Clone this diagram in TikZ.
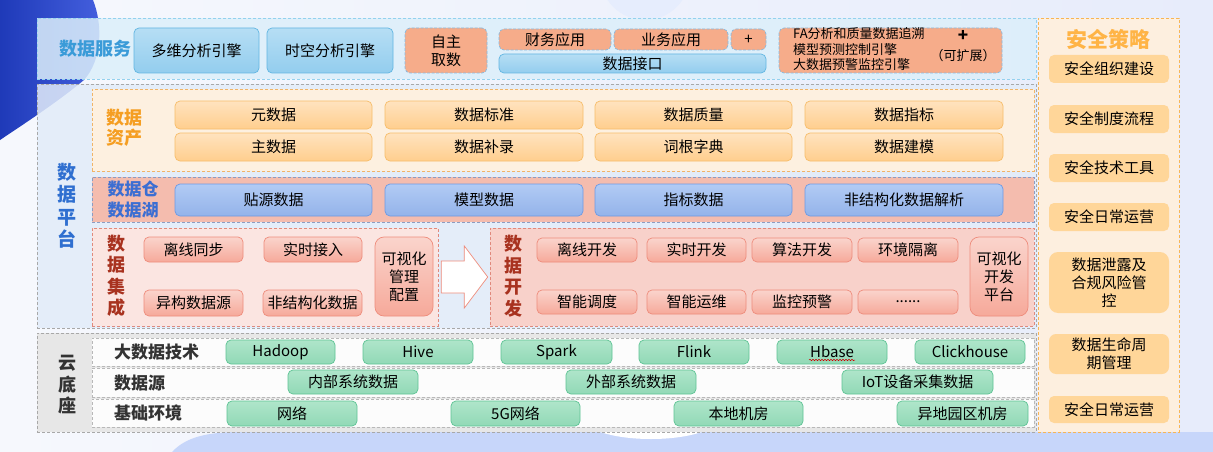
\documentclass[tikz,border=0pt]{standalone}
\usepackage{fontspec}
\setmainfont{Noto Sans CJK SC}
\usetikzlibrary{positioning,calc,decorations.pathmorphing}
\definecolor{pageleft}{HTML}{F6F8FD}
\definecolor{pageright}{HTML}{E7ECFB}
\definecolor{deepblue}{HTML}{2444D9}
\definecolor{paleblue}{HTML}{C7D6FA}
\definecolor{svcfill}{HTML}{DCEFFA}
\definecolor{svcline}{HTML}{93D1EE}
\definecolor{svcink}{HTML}{3A9BD8}
\definecolor{skytop}{HTML}{B6DEF4}
\definecolor{skybot}{HTML}{93CDEE}
\definecolor{skyline}{HTML}{62B6E2}
\definecolor{peachfill}{HTML}{F6AC8A}
\definecolor{peachline}{HTML}{86B9DF}
\definecolor{platfill}{HTML}{E2ECF9}
\definecolor{platink}{HTML}{2F6FD0}
\definecolor{grayline}{HTML}{A8A8A8}
\definecolor{assetfill}{HTML}{FDF0E0}
\definecolor{assetline}{HTML}{F0B468}
\definecolor{assetink}{HTML}{F59E22}
\definecolor{ambertop}{HTML}{FFE3BF}
\definecolor{amberbot}{HTML}{FFCE8E}
\definecolor{amberline}{HTML}{F7BD6A}
\definecolor{lakeband}{HTML}{F4BCAE}
\definecolor{lakeborder}{HTML}{8C9CC2}
\definecolor{lakeink}{HTML}{3C6ED2}
\definecolor{laketop}{HTML}{B2CBF4}
\definecolor{lakebot}{HTML}{93B3EA}
\definecolor{lakeline}{HTML}{6C9AE4}
\definecolor{integfill}{HTML}{FBE5E1}
\definecolor{devfill}{HTML}{F8D1CA}
\definecolor{roseborder}{HTML}{E0897C}
\definecolor{roseink}{HTML}{A8321F}
\definecolor{rosetop}{HTML}{FAD4CC}
\definecolor{rosebot}{HTML}{F6A99A}
\definecolor{roseline}{HTML}{EE8C7C}
\definecolor{cloudfill}{HTML}{E7E7E7}
\definecolor{cloudink}{HTML}{333333}
\definecolor{bandfill}{HTML}{FCFCFC}
\definecolor{bandline}{HTML}{B8B8B8}
\definecolor{minttop}{HTML}{AFE5CA}
\definecolor{mintbot}{HTML}{91D9B6}
\definecolor{mintline}{HTML}{5EC394}
\definecolor{guardbg}{HTML}{FDEFDF}
\definecolor{guardline}{HTML}{F7B556}
\definecolor{guardink}{HTML}{FFB446}
\definecolor{guardfill}{HTML}{FFD699}

\begin{document}
\begin{tikzpicture}[x=1pt,y=-1pt,
  wh/.style 2 args={minimum width=#1pt,minimum height=#2pt},
  panel/.style={draw,dash pattern=on 3pt off 2pt,line width=0.6pt,inner sep=0pt},
  cell/.style={rounded corners=5pt,inner sep=0pt,align=center,line width=0.7pt,font=\fontsize{15}{18}\selectfont},
  skycell/.style={cell,draw=skyline,top color=skytop,bottom color=skybot},
  peach/.style={cell,draw=peachline,dash pattern=on 3pt off 1.5pt,fill=peachfill},
  amber/.style={cell,draw=amberline,top color=ambertop,bottom color=amberbot},
  lake/.style={cell,draw=lakeline,top color=laketop,bottom color=lakebot},
  rose/.style={cell,draw=roseline,top color=rosetop,bottom color=rosebot},
  mint/.style={cell,draw=mintline,top color=minttop,bottom color=mintbot},
  guard/.style={cell,fill=guardfill},
  tag/.style={font=\bfseries\fontsize{18}{21}\selectfont,align=center,inner sep=0pt},
  rowtag/.style={font=\bfseries\fontsize{17}{20}\selectfont,text=cloudink,inner sep=0pt,anchor=west}
]
\useasboundingbox (0,0) rectangle (1213,452);
\clip (0,0) rectangle (1213,452);

% backdrop
\shade[left color=pageleft,right color=pageright] (0,0) rectangle (1213,452);
\shade[left color=deepblue!85!black,right color=deepblue!85!white] (0,0) -- (93,0)
  .. controls (103,25) and (102,60) .. (84,80) .. controls (60,100) and (30,120) .. (0,140) -- cycle;
\fill[paleblue!45] (645,-25) circle (45pt);
\fill[paleblue] (172,452) .. controls (185,438) and (205,432) .. (240,432) -- (1213,432) -- (1213,452) -- cycle;
\fill[white] (651,418) ellipse (68pt and 21pt);

% data services
\node[panel,draw=svcline,fill=svcfill,fill opacity=0.85,wh={999}{61}] (service) at (536.5,48.5) {};
\node[tag,text=svcink] (svctag) at (95,49) {数据服务};
\node[skycell,wh={125}{45}] (olap) at (196.5,50.5) {多维分析引擎};
\node[skycell,wh={126}{45}] (spatio) at (330,50.5) {时空分析引擎};
\node[peach,wh={82}{45}] (selfq) at (446,50.5) {自主\\取数};
\node[peach,wh={112}{21}] (finapp) at (555,39.5) {财务应用};
\node[peach,wh={114}{21}] (bizapp) at (671,39.5) {业务应用};
\node[peach,wh={35}{21}] (more) at (748.5,39.5) {+};
\node[skycell,wh={267}{19}] (api) at (632.5,63.5) {数据接口};
\node[peach,wh={223}{45}] (engines) at (890.5,50.5) {};
\node[anchor=west,font=\fontsize{13}{15.5}\selectfont,align=left,inner sep=0pt] (englist) at (793,49.5) {FA分析和质量数据追溯\\模型预测控制引擎\\大数据预警监控引擎};
\node[font=\bfseries\fontsize{17}{17}\selectfont,inner sep=0pt] (plus) at (963,36) {+};
\node[font=\fontsize{13}{15}\selectfont,inner sep=0pt] (ext) at (963,56) {（可扩展）};

% data platform
\node[panel,draw=grayline,fill=platfill,fill opacity=0.85,wh={999}{244}] (platform) at (536.5,206) {};
\node[tag,text=platink,font=\bfseries\fontsize{19}{22.5}\selectfont] (plattag) at (67,206) {数\\据\\平\\台};

\node[panel,draw=assetline,fill=assetfill,wh={942}{82}] (assets) at (563,130) {};
\node[tag,text=assetink,font=\bfseries\fontsize{18}{20}\selectfont] (assettag) at (124.5,128) {数据\\资产};
\node[amber,wh={197}{28}] (meta) at (273.5,115) {元数据};
\node[amber,wh={198}{28}] (std) at (484,115) {数据标准};
\node[amber,wh={197}{28}] (qual) at (693.5,115) {数据质量};
\node[amber,wh={198}{28}] (kpi) at (904,115) {数据指标};
\node[amber,wh={197}{28}] (master) at (273.5,147) {主数据};
\node[amber,wh={198}{28}] (entry) at (484,147) {数据补录};
\node[amber,wh={197}{28}] (dict) at (693.5,147) {词根字典};
\node[amber,wh={198}{28}] (model) at (904,147) {数据建模};

\node[panel,draw=lakeborder,fill=lakeband,wh={942}{45}] (lakeband) at (563,199.5) {};
\node[tag,text=lakeink,font=\bfseries\fontsize{17}{21}\selectfont] (laketag) at (133,200) {数据仓\\数据湖};
\node[lake,wh={197}{32}] (ods) at (273.5,200) {贴源数据};
\node[lake,wh={198}{32}] (dwm) at (484,200) {模型数据};
\node[lake,wh={197}{32}] (dws) at (693.5,200) {指标数据};
\node[lake,wh={198}{32}] (unstr) at (904,200) {非结构化数据解析};

\node[panel,draw=roseborder,fill=integfill,wh={346}{98}] (integ) at (265,277) {};
\node[tag,text=roseink,font=\bfseries\fontsize{18}{21.5}\selectfont] (integtag) at (116,276) {数\\据\\集\\成};
\node[rose,wh={99}{25}] (offsync) at (193.5,249.5) {离线同步};
\node[rose,wh={98}{25}] (rtin) at (313,249.5) {实时接入};
\node[rose,wh={99}{26}] (hetero) at (193.5,303) {异构数据源};
\node[rose,wh={99}{26}] (unsdata) at (312.5,303) {非结构化数据};
\node[rose,rounded corners=9pt,wh={58}{79}] (vismgr) at (404,276.5) {可视化\\管理\\配置};

\node[panel,draw=roseborder,fill=devfill,wh={544}{98}] (devel) at (762,277) {};
\node[tag,text=roseink,font=\bfseries\fontsize{18}{21.5}\selectfont] (develtag) at (513,276) {数\\据\\开\\发};
\node[rose,wh={100}{24}] (offdev) at (587,250) {离线开发};
\node[rose,wh={99}{24}] (rtdev) at (696.5,250) {实时开发};
\node[rose,wh={100}{24}] (algdev) at (802,250) {算法开发};
\node[rose,wh={100}{24}] (enviso) at (908,250) {环境隔离};
\node[rose,wh={100}{24}] (sched) at (587,302) {智能调度};
\node[rose,wh={99}{24}] (smartops) at (696.5,302) {智能运维};
\node[rose,wh={100}{24}] (alert) at (802,302) {监控预警};
\node[rose,wh={100}{24}] (etc) at (908,302) {......};
\node[rose,rounded corners=9pt,wh={58}{79}] (visdev) at (999,276.5) {可视化\\开发\\平台};

\draw[roseline,fill=white,line width=0.7pt] ($(integ.east)+(3,-16)$) -- ++(23,0) -- ++(0,-15)
  -- ($(devel.west)+(-2,0)$) -- ($(integ.east)+(26,31)$) -- ++(0,-15) -- ($(integ.east)+(3,16)$) -- cycle;

% cloud base
\node[panel,draw=grayline,fill=cloudfill,wh={999}{99}] (cloud) at (536.5,382.5) {};
\node[tag,text=cloudink,font=\bfseries\fontsize{18}{21.5}\selectfont] (cloudtag) at (67,385) {云\\底\\座};
\node[panel,draw=bandline,fill=bandfill,wh={942}{28}] (techband) at (563,352) {};
\node[panel,draw=bandline,fill=bandfill,wh={942}{29}] (srcband) at (563,382.5) {};
\node[panel,draw=bandline,fill=bandfill,wh={942}{28}] (baseband) at (563,413) {};
\node[rowtag] (techtag) at (114,352) {大数据技术};
\node[rowtag] (srctag) at (114,383) {数据源};
\node[rowtag] (basetag) at (114,413) {基础环境};
\node[mint,wh={109}{24}] (hadoop) at (280.5,352) {Hadoop};
\node[mint,wh={110}{24}] (hive) at (418,352) {Hive};
\node[mint,wh={111}{24}] (spark) at (556.5,352) {Spark};
\node[mint,wh={110}{24}] (flink) at (694,352) {Flink};
\node[mint,wh={110}{24}] (hbase) at (832,352) {Hbase};
\node[mint,wh={110}{24}] (chouse) at (970,352) {Clickhouse};
\draw[red!80!black,line width=0.5pt,decorate,decoration={snake,amplitude=0.7pt,segment length=3pt}]
  ($(hbase.center)+(-23,8)$) -- ($(hbase.center)+(23,8)$);
\node[mint,wh={130}{24}] (inner) at (353,382) {内部系统数据};
\node[mint,wh={130}{24}] (outer) at (631,382) {外部系统数据};
\node[mint,wh={151}{24}] (iot) at (917.5,382) {IoT设备采集数据};
\node[mint,wh={130}{25}] (net) at (292,413.5) {网络};
\node[mint,wh={129}{25}] (fiveg) at (515.5,413.5) {5G网络};
\node[mint,wh={129}{25}] (localdc) at (738.5,413.5) {本地机房};
\node[mint,wh={131}{25}] (remotedc) at (962.5,413.5) {异地园区机房};

% security policy
\node[panel,draw=guardline,fill=guardbg,wh={141}{414}] (security) at (1108.5,225) {};
\node[tag,text=guardink,font=\bfseries\fontsize{21}{24}\selectfont] (sectag) at (1108,40) {安全策略};
\node[guard,wh={120}{28}] (org) at (1109,69) {安全组织建设};
\node[guard,wh={120}{28}] (rules) at (1109,119) {安全制度流程};
\node[guard,wh={120}{28}] (tools) at (1109,168) {安全技术工具};
\node[guard,wh={120}{28}] (daily) at (1109,217) {安全日常运营};
\node[guard,rounded corners=9pt,wh={120}{61}] (leak) at (1109,282.5) {数据泄露及\\合规风险管\\控};
\node[guard,rounded corners=7pt,wh={120}{40}] (life) at (1109,354) {数据生命周\\期管理};
\node[guard,wh={120}{27}] (daily2) at (1109,409.5) {安全日常运营};
\end{tikzpicture}
\end{document}
